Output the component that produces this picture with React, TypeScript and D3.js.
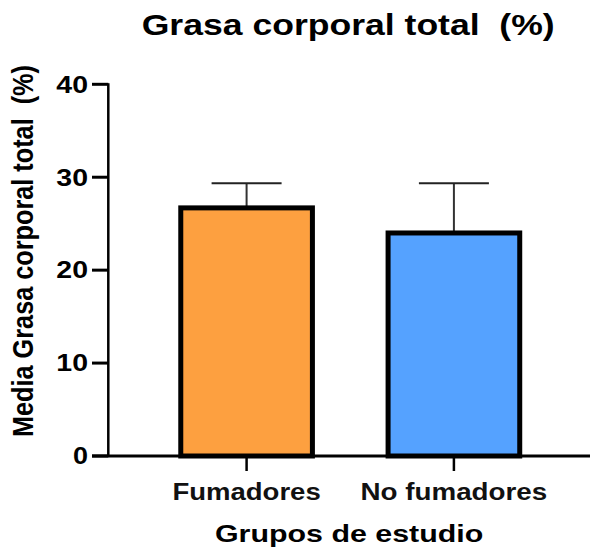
import React from "react";
import * as d3 from "d3";

const categories = ["Fumadores", "No fumadores"];
const means = [26.7, 24.0];
const errors = [2.65, 5.35];
const barColors = ["#FDA040", "#55A2FF"];
const yTicks = [0, 10, 20, 30, 40];

const W = 590;
const H = 556;
const FONT = "'Liberation Sans', Arial, sans-serif";

export default function App() {
  const y = d3.scaleLinear().domain([0, 40]).range([456, 84.3]);
  const x = d3
    .scaleBand<string>()
    .domain(categories)
    .range([108, 592.5])
    .paddingInner(0.365)
    .paddingOuter(0.351);
  const bw = x.bandwidth();
  const capW = 70;
  const xLabelWidths: Record<string, number> = { Fumadores: 148.3, "No fumadores": 186.7 };

  return (
    <svg
      width={W}
      height={H}
      style={{ position: "absolute", left: 0, top: 0, background: "#fff" }}
      fontFamily={FONT}
    >
      <rect x={0} y={0} width={W} height={H} fill="#fff" />
      {/* Title */}
      <text
        x={141.7}
        y={35}
        fontSize={30}
        fontWeight="bold"
        textLength={413}
        lengthAdjust="spacingAndGlyphs"
        fill="#000"
        style={{ whiteSpace: "pre" }}
      >
        {"Grasa corporal total  (%)"}
      </text>

      {/* Bars */}
      {categories.map((c, i) => {
        const x0 = x(c)!;
        const cx = x0 + bw / 2;
        const top = y(means[i]);
        const errTop = y(means[i] + errors[i]);
        return (
          <g key={c}>
            <line x1={cx} x2={cx} y1={top} y2={errTop} stroke="#333" strokeWidth={2} />
            <line x1={cx - capW / 2} x2={cx + capW / 2} y1={errTop} y2={errTop} stroke="#222" strokeWidth={2} />
            <rect
              x={x0}
              y={top}
              width={bw}
              height={y(0) - top}
              fill={barColors[i]}
              stroke="#000"
              strokeWidth={5}
            />
          </g>
        );
      })}

      {/* Y axis */}
      <line x1={108.3} x2={108.3} y1={y(40) - 1} y2={y(0)} stroke="#000" strokeWidth={2.5} />
      {yTicks.map((t) => (
        <g key={t}>
          <line x1={92} x2={108.3} y1={y(t)} y2={y(t)} stroke="#000" strokeWidth={3} />
          <text
            x={88}
            y={y(t) + 8.3}
            fontSize={23}
            fontWeight="bold"
            textAnchor="end"
            textLength={t === 0 ? 15 : 31.7}
            lengthAdjust="spacingAndGlyphs"
            fill="#000"
          >
            {String(t)}
          </text>
        </g>
      ))}

      {/* X axis */}
      <line x1={92} x2={W} y1={y(0)} y2={y(0)} stroke="#000" strokeWidth={3} />
      {categories.map((c) => {
        const cx = x(c)! + bw / 2;
        const w = xLabelWidths[c];
        return (
          <g key={c}>
            <line x1={cx} x2={cx} y1={y(0)} y2={471} stroke="#000" strokeWidth={2.5} />
            <text
              x={cx - w / 2}
              y={500}
              fontSize={23}
              fontWeight="bold"
              textLength={w}
              lengthAdjust="spacingAndGlyphs"
              fill="#111"
            >
              {c}
            </text>
          </g>
        );
      })}

      {/* X title */}
      <text
        x={215}
        y={541.7}
        fontSize={24}
        fontWeight="bold"
        textLength={268.3}
        lengthAdjust="spacingAndGlyphs"
        fill="#000"
      >
        Grupos de estudio
      </text>

      {/* Y title */}
      <g transform="translate(33,251) scale(1.2,1) rotate(-90)">
        <text
          x={-186}
          y={0}
          fontSize={25}
          fontWeight="bold"
          textLength={372}
          lengthAdjust="spacingAndGlyphs"
          fill="#000"
          style={{ whiteSpace: "pre" }}
        >
          {"Media Grasa corporal total  (%)"}
        </text>
      </g>
    </svg>
  );
}
